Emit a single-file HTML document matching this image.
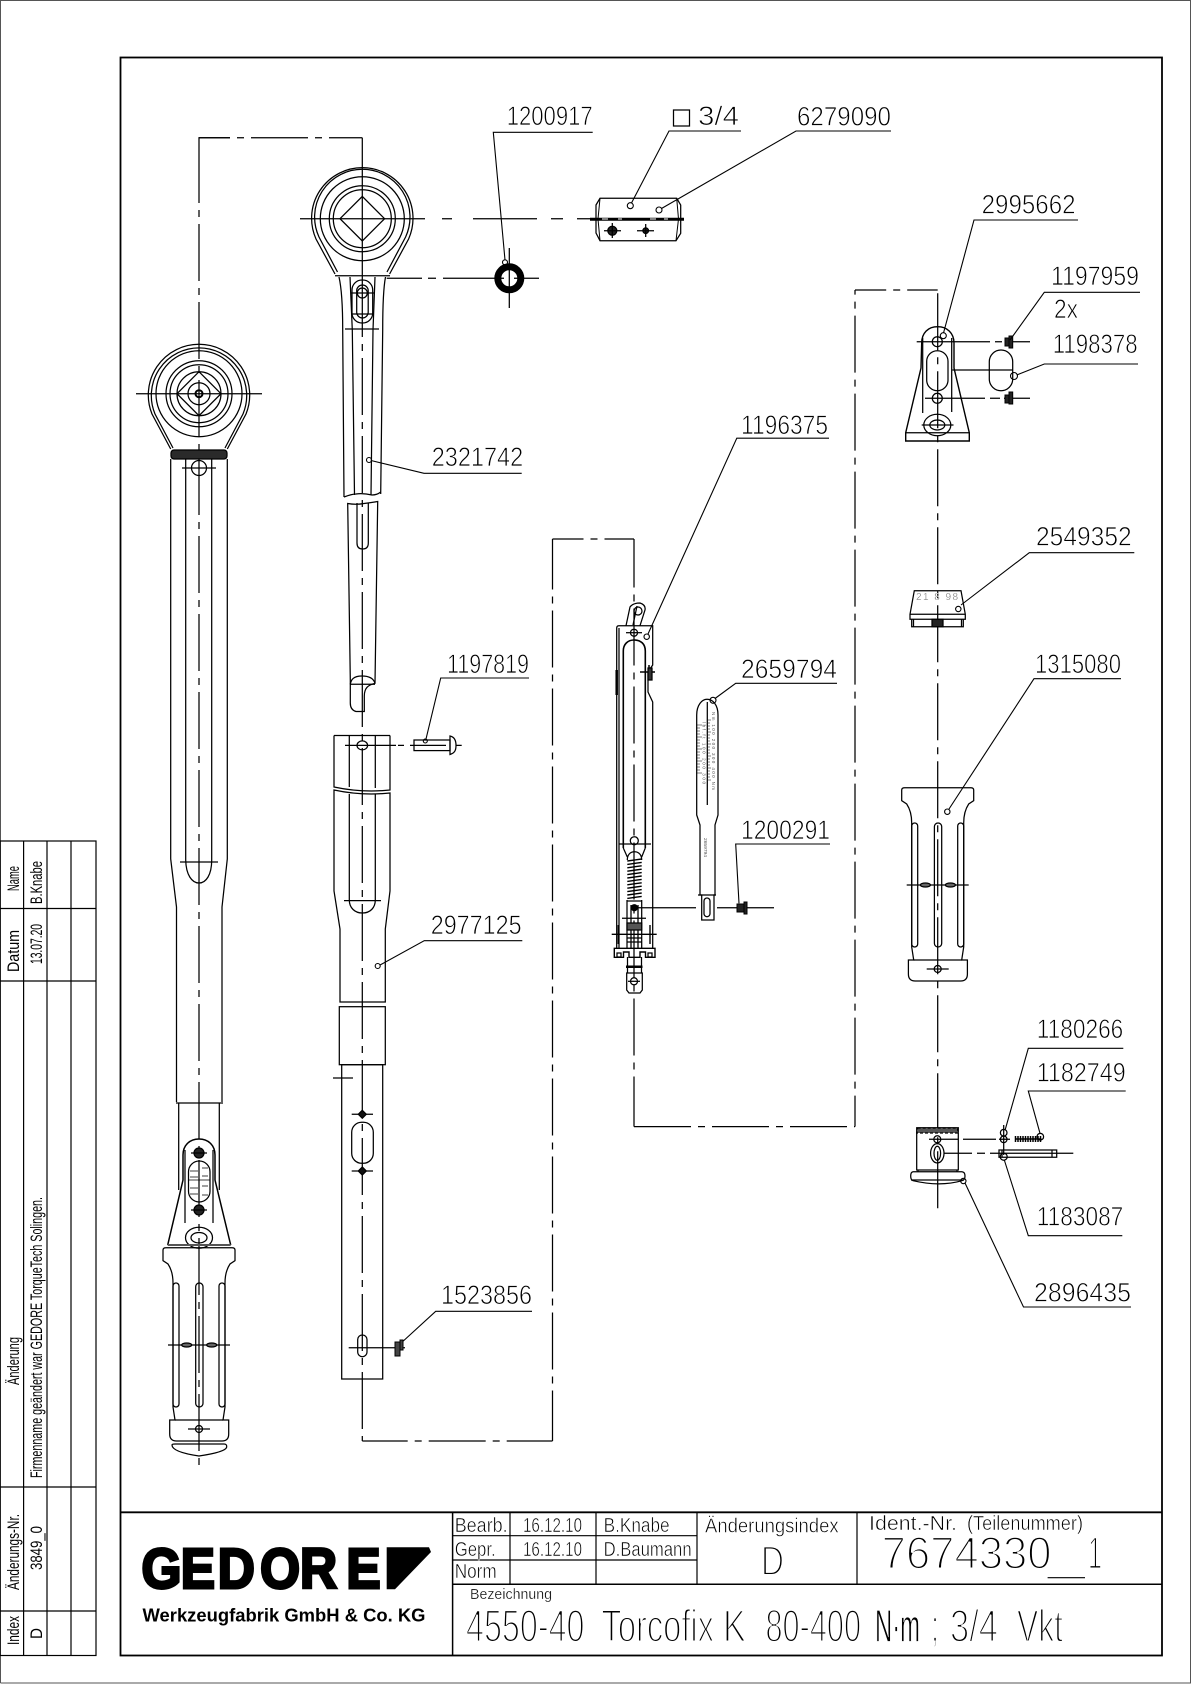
<!DOCTYPE html>
<html><head><meta charset="utf-8"><style>
html,body{margin:0;padding:0;background:#fff}
svg{display:block}
.l{fill:none;stroke:#000;stroke-width:1.25}
.d{stroke-dasharray:57 7 7 7}
.t{font-family:"Liberation Sans",sans-serif;font-size:27px;fill:#000;stroke:#fff;stroke-width:.75;}
.s{font-family:"Liberation Sans",sans-serif;font-size:20px;fill:#000;stroke:#fff;stroke-width:.55;}
.r{font-family:"Liberation Sans",sans-serif;font-size:17px;fill:#000;}
.b{font-family:"Liberation Sans",sans-serif;font-size:45px;fill:#000;stroke:#fff;stroke-width:2;}
</style></head><body>
<svg width="1191" height="1684" viewBox="0 0 1191 1684" xmlns="http://www.w3.org/2000/svg">
<rect width="1191" height="1684" fill="#fff"/>
<path d="M.5 1683V.5H1190.5V1683H.5" fill="none" stroke="#555" stroke-width="1"/>
<rect x="120.5" y="57.5" width="1041.5" height="1598" fill="none" stroke="#000" stroke-width="1.8"/>

<!-- left revision table -->
<g fill="none" stroke="#000" stroke-width="1.2">
<rect x="0" y="841" width="96" height="814.5"/>
<path d="M23.6 841V1655.5M47 841V1655.5M71 841V1655.5M0 908.5H96M0 981H96M0 1487H96M0 1611H96"/>
</g>
<text class="r" transform="translate(19,891) rotate(-90) scale(.55,1)">Name</text>
<text class="r" transform="translate(19,972) rotate(-90) scale(.84,1)">Datum</text>
<text class="r" transform="translate(19,1385) rotate(-90)" textLength="48" lengthAdjust="spacingAndGlyphs">Änderung</text>
<text class="r" transform="translate(19,1590) rotate(-90)" textLength="76" lengthAdjust="spacingAndGlyphs">Änderungs-Nr.</text>
<text class="r" transform="translate(19,1645) rotate(-90)" textLength="29" lengthAdjust="spacingAndGlyphs">Index</text>
<text class="r" transform="translate(42,904) rotate(-90)" textLength="43" lengthAdjust="spacingAndGlyphs">B.Knabe</text>
<text class="r" transform="translate(42,964) rotate(-90)" textLength="40" lengthAdjust="spacingAndGlyphs">13.07.20</text>
<text class="r" transform="translate(42,1478) rotate(-90)" textLength="281" lengthAdjust="spacingAndGlyphs">Firmenname geändert war GEDORE TorqueTech Solingen.</text>
<text class="r" transform="translate(42,1570) rotate(-90)" textLength="44" lengthAdjust="spacingAndGlyphs">3849_0</text>
<text class="r" transform="translate(42,1639) rotate(-90)" textLength="11" lengthAdjust="spacingAndGlyphs">D</text>

<!-- dash-dot assembly lines -->
<g class="l">
<path d="M199 146V137.7H230"/>
<line class="d" x1="199" y1="146" x2="199" y2="1469"/>
<line class="d" stroke-dashoffset="26" x1="199" y1="137.7" x2="362.3" y2="137.7"/>
<path d="M362.3 137.7V280"/>
<line class="d" x1="362.3" y1="280" x2="362.3" y2="1441"/>
<line class="d" stroke-dashoffset="11.6" x1="362.3" y1="1441" x2="552.5" y2="1441"/>
<line class="d" stroke-dashoffset="6.5" x1="552.5" y1="539" x2="552.5" y2="1441"/>
<line class="d" stroke-dashoffset="26" x1="552.5" y1="539" x2="634" y2="539"/>
<line class="d" stroke-dashoffset="8.5" x1="634" y1="539" x2="634" y2="1126.6"/>
<line class="d" x1="634" y1="1126.6" x2="855" y2="1126.6"/>
<line class="d" stroke-dashoffset="26" x1="855" y1="1126.6" x2="855" y2="290"/>
<line class="d" stroke-dashoffset="25.8" x1="855" y1="290" x2="937.7" y2="290"/>
<line class="d" stroke-dashoffset="74.8" x1="937.7" y1="290" x2="937.7" y2="1210"/>
<path d="M300 218.7H425M442 218.7H452M473 218.7H537M551 218.7H563M577 218.7H596"/>
<path d="M386.7 278.3H422M428 278.3H436M443 278.3H486"/>
<path d="M486 278.3H504M514 278.3H539M509.3 248V308"/>
</g>

<!-- tool 1 head -->
<g class="l">
<path d="M170.7 449L152 414A50.7 50.7 0 1 1 246 414L227.3 449"/>
<path d="M173 448L155 414A47.7 47.7 0 1 1 243 414L225 448"/>
<circle cx="199" cy="393.7" r="43"/><circle cx="199" cy="393.7" r="33"/><circle cx="199" cy="393.7" r="29"/><circle cx="199" cy="393.7" r="22"/>
<path d="M177 393.7L199 371.7L221 393.7L199 415.7Z"/>
<circle cx="199" cy="393.7" r="11"/><circle cx="199" cy="393.7" r="3.5" stroke-width="2"/>
<path d="M136 393.7H262"/>
<rect x="171" y="450" width="56" height="9" rx="3" fill="#2a2a2a"/>
<!-- shaft -->
<path d="M170.7 459V859L176.5 907V1102M227.3 459V859L222 907V1102M176 1103H223"/>
<path d="M185.7 459V860M211.7 459V860M185.7 860C186 875 192 883 199 883C206 883 211.7 875 211.7 860M180 862H218"/>
<circle cx="199" cy="468" r="7.5"/><path d="M182 468H216"/>
<path d="M178.7 1103V1190M219.3 1103V1190"/>
<path d="M167.7 1245L183 1180V1155C183 1145 190 1139 199 1139C208 1139 215 1145 215 1155V1180L230.7 1245" stroke-width="1.5"/>
<path d="M185 1150V1223M213 1150V1223"/>
<rect x="188.5" y="1161" width="21.5" height="41" rx="10.7"/>
<path d="M188.5 1180H210M190 1171h8M190 1177h8M190 1188h8M190 1194h8M202 1168h6M202 1176h6M202 1186h6M202 1195h6" stroke-width=".8"/>
<circle cx="199" cy="1153" r="5" fill="#222"/><circle cx="199" cy="1210" r="5" fill="#222"/>
<path d="M191 1153H207M191 1210H207"/>
<ellipse cx="199" cy="1237.7" rx="13.5" ry="10.5"/><ellipse cx="199" cy="1237.7" rx="8" ry="5.2"/>
<path d="M167.7 1245H230.7" stroke="#555" stroke-width="2"/>
</g>

<!-- handle -->
<g class="l" id="handle">
<path d="M166 1247.7H232Q235 1247.7 235 1250V1260.7L230 1264C226 1270 225 1276 225 1283V1407L223 1420H228.7V1434Q228.7 1441 222 1441H176.5Q169.7 1441 169.7 1434V1420H175L173 1407V1283C173 1276 172 1270 168 1264L163 1260.7V1250Q163 1247.7 166 1247.7Z"/>
<path d="M175 1420H223"/>
<rect x="173" y="1283" width="6" height="124" rx="3"/>
<rect x="195.7" y="1283" width="7.3" height="124" rx="3.6"/>
<rect x="219" y="1283" width="6" height="124" rx="3"/>
<path d="M168 1345H230"/>
<ellipse cx="186.7" cy="1345" rx="5" ry="2" fill="#666"/><ellipse cx="211.7" cy="1345" rx="5" ry="2" fill="#666"/>
<circle cx="199" cy="1429" r="3.5"/><path d="M188 1429H210"/>
</g>
<path class="l" d="M172 1445Q172 1444 175 1444H224Q227 1444 226.7 1447Q226 1452 199 1456Q172 1452 172 1445Z"/>
<use href="#handle" x="738.7" y="-460"/>

<!-- tool 2 head -->
<g class="l">
<path d="M335 274L316 239A50.7 50.7 0 1 1 408.6 239L389.6 274"/>
<path d="M337.5 272L319 237A47.7 47.7 0 1 1 405.6 237L387 272"/>
<path d="M335 275.7H390"/>
<circle cx="362.3" cy="218.7" r="42"/><circle cx="362.3" cy="218.7" r="33"/><circle cx="362.3" cy="218.7" r="29"/>
<path d="M340 218.7L362.3 196.4L384.6 218.7L362.3 241Z"/>
<path d="M339 277C342 290 342.7 310 342.7 330L344 497M385.5 277C383 290 382.7 310 382.7 330L380.7 494"/>
<path d="M344 497Q352 494 356 494Q363 493 372 495Q377 495 380.7 492"/>
<path d="M350 277L352.3 330L354.5 495M375 277L373 330L371 495"/>
<rect x="352" y="280" width="20.7" height="43" rx="10"/>
<rect x="356.7" y="285" width="11.5" height="33" rx="5.7"/>
<circle cx="362.3" cy="293" r="5"/>
<path d="M351 293H374M351 314H374"/>
<path d="M345 329H379"/>
<path d="M347.7 503.5Q356 505 364 503.5Q372 502.5 377.7 501.5L375 683.3C368 685 364.3 688 364.3 696V711.5H356Q350.3 710 350.3 703V680Z"/>
<path d="M350.3 684.3C351 680 353 676 362 676C371 676 374 680 375 683.3M350.3 684.3H375"/>
<path d="M357 503V543Q357 549 362.6 549Q368.3 549 368.3 543V503"/>

<!-- ring -->
<circle cx="509.3" cy="278.3" r="11.5" stroke-width="7"/>

<!-- nut -->
<path d="M596 205L600 198.3H676.7L680.7 205V233.3L676 240.7H600L596 233Z"/>
<path d="M590 219.2H684" stroke-width="3"/>
<path d="M602 219H608M618 219H622M650 219H656M664 219H668" stroke="#fff" stroke-width="1"/>
<path d="M600 198.3L598 219L600 240.7M676.7 198.3L678.5 219L676 240.7" stroke-width="1"/>
<circle cx="612.3" cy="230.7" r="4.5" fill="#222"/><circle cx="645.7" cy="230.7" r="2.8" fill="#222"/>
<path d="M604 230.7H621M612.3 223V238M637 230.7H654M645.7 224V237"/>

<!-- tube 2977125 -->
<path d="M334 735.5H390M334 735.5V787Q362 793 390 790V735.5" />
<path d="M334 790Q362 796 390 793V891L385.3 929V1002H340V929L334 891Z"/>
<path d="M349.3 736V787M375.3 736V788M349.3 794V900C349.3 908 355 913 362.3 913C370 913 375.3 908 375.3 900V794M344 900.6H381"/>
<ellipse cx="362.3" cy="745.4" rx="5.3" ry="4.5"/>
<path d="M345 745.4H396M398 745.4H404M410 745.4H414"/>
<rect x="414" y="740" width="36" height="10.6"/>
<path d="M414 745.4H446M450 736V754.5C455 753 456 750 456 745.4C456 741 455 737 450 736Z M456 745.4H461.7"/>
<rect x="339.3" y="1006.7" width="46" height="58"/>
<rect x="341.7" y="1064.7" width="41" height="314.3"/>
<path d="M333 1078H353"/>
<rect x="351.7" y="1122.3" width="21.6" height="41" rx="10"/>
<path d="M351.7 1114.3H373M351.7 1171H373"/>
<path d="M362.3 1110.3l4 4l-4 4l-4-4ZM362.3 1167l4 4l-4 4l-4-4Z" fill="#111"/>
<rect x="357.7" y="1335" width="9.3" height="21.7" rx="4.6"/>
<path d="M348.7 1347.7H405"/>
<path d="M395 1342H400V1356H395ZM400 1340H403V1350H400Z" fill="#444" stroke-width="1"/>

<!-- tool 3 -->
<path d="M616.7 948V628Q616.7 625.7 619 625.7H652.7V665L648 672V692L652.7 702V948"/>
<path d="M616.7 670V695" stroke-width="2.5"/>
<path d="M619 948V628"/>
<path d="M623.3 848V651C623.3 644 628 640 634 640C641 640 645.3 644 645.3 651V848" stroke-width="1.6"/>
<path d="M626 625.7L630 607Q633 603 640 603Q646 605 645 610L640 625.7M633 625L637 606"/>
<circle cx="638" cy="611" r="4"/>
<circle cx="634" cy="632.7" r="3.5"/><path d="M626 632.7H642"/>
<path d="M640 672H655M649 665V680" stroke-width="1.5"/>
<path d="M648 668H652V680H648Z" fill="#333"/>
<circle cx="634.3" cy="840.7" r="4"/><path d="M619 844H651"/>
<path d="M623.3 848L627.3 857M645.3 848L641.7 857"/>
<path d="M627.3 860C627.3 855 630 851.7 634.5 851.7C639 851.7 641.7 855 641.7 860"/>
<path d="M627.3 861l14.4-2M627.3 864.4l14.4-2M627.3 867.8l14.4-2M627.3 871.2l14.4-2M627.3 874.6l14.4-2M627.3 878l14.4-2M627.3 881.4l14.4-2M627.3 884.8l14.4-2M627.3 888.2l14.4-2M627.3 891.6l14.4-2M627.3 895l14.4-2M627.3 898.4l14.4-2" stroke-width="1.4"/>
<path d="M627.3 901H641.7"/>
<circle cx="634.3" cy="907.7" r="3" fill="#000"/>
<path d="M634 907.7H696M717 907.7H774"/>
<path d="M627 900V948M641.7 900V948M622 918.3H646"/>
<path d="M631 905V948M638 905V948" stroke-width="1.3"/>
<path d="M627 923H641.7V930H627Z" fill="#555"/>
<path d="M627 938H641.7M627 942H641.7"/>
<path d="M611.7 934.3H656.7M618.3 925V944M650 925V944" stroke-width="1.4"/>
<path d="M614.3 948.3H655V957.3H645.5V952H640V957.3H629V952H623.5V957.3H614.3Z" stroke-width="1.4"/>
<path d="M617 953h4v4h-4ZM648 953h4v4h-4Z"/>
<path d="M627.5 957V973M641.5 957V973"/>
<path d="M626 966.7H642.5" stroke-width="2.5"/>
<path d="M626.7 973H642.3V990L640 993H629L626.7 990Z"/>
<circle cx="634" cy="981.3" r="3.5"/><path d="M628 981.3H640"/>

<!-- scale strip -->
<path d="M696.7 715C696.7 705 702 699.3 707 699.3C713 699.3 718 705 718 715V815L715 825V895H714V920H701.7V895H700V825L696.7 815Z"/>
<rect x="704" y="898" width="6" height="18.7" rx="3"/>
<path d="M707.3 702V805M698 895H716"/>
<path d="M697 725h5M697 728h3M697 731h3M697 734h3M697 737h5M697 740h3M697 743h3M697 746h3M697 749h5M697 752h3M697 755h3M697 758h3M697 761h5M697 764h3M697 767h3M697 770h3M697 773h5M708 720h3M708 723h2M708 726h2M708 729h2M708 732h3M708 735h2M708 738h2M708 741h2M708 744h3M708 747h2M708 750h2M708 753h2M708 756h3M708 759h2M708 762h2M708 765h2M708 768h3M708 771h2M708 774h2M708 777h2M708 780h3" stroke-width=".6"/>

<!-- screw 1200291 -->
<path d="M737 904H744V912H737ZM744 902H747V914H744Z" fill="#222" stroke-width="1"/>

<!-- bracket -->
<path d="M921.7 343C921.7 333 928 326.7 937.7 326.7C947 326.7 954 333 954 343V368L969.3 432.7V441H905.7V432.7L921 368Z" stroke-width="1.4"/>
<path d="M905.7 432.7H969.3M922.7 338V413M951.7 338V412"/>
<circle cx="937.3" cy="341.7" r="5"/><circle cx="937.3" cy="398.3" r="5"/>
<rect x="926.7" y="350.7" width="21.3" height="40" rx="10.6"/>
<ellipse cx="937.3" cy="425" rx="13.5" ry="10.7"/><ellipse cx="937.3" cy="425" rx="7.5" ry="5"/>
<path d="M921.7 425H953.5"/>
<path d="M916.7 341.7H990M995 341.7H1002M1008 341.7H1030M925 398.3H985M990 398.3H1000M1004 398.3H1030"/>
<path d="M1005 338H1009V346H1005ZM1009 336H1012.7V348H1009ZM1005 395H1009V403H1005ZM1009 392H1012.7V404H1009Z" fill="#222" stroke-width="1"/>
<rect x="989.3" y="350" width="23.4" height="40.7" rx="11.7"/>
<path d="M952.3 370H1012.7"/>

<!-- 2549352 part -->
<path d="M914.3 590.7H961L965.3 614.3V619.3H910V614.3Z"/>
<path d="M910 614.3H965.3"/>
<path d="M911.7 619.3V626.7H963.3V619.3M913.5 619.3V626.7M961.5 619.3V626.7"/>
<rect x="932" y="619.3" width="11" height="7.4" fill="#222"/>

<!-- bottom part -->
<path d="M916.7 1127.7V1170H958.3V1127.7Z"/>
<path d="M917.7 1128H957.3L958.3 1133H916.7Z" fill="#555" stroke-dasharray="3 2"/>
<circle cx="937.3" cy="1139.3" r="3.5"/>
<path d="M929 1139.3H958M963 1139.3H996M999 1139.3H1010"/>
<ellipse cx="937.3" cy="1153.3" rx="6.7" ry="9.7"/><ellipse cx="937.3" cy="1153.3" rx="3.3" ry="7"/>
<path d="M944 1153.3H972M977 1153.3H985M990 1153.3H1073.3"/>
<path d="M918 1170V1172M957 1170V1172"/>
<path d="M913 1171.7H962Q965 1172 965 1176Q965 1180 962 1180.7Q940 1187 913 1180.7Q910.7 1180 910.7 1176Q910.7 1172 913 1171.7Z"/>
<path d="M911 1180H964"/>
<path d="M1003.7 1125V1155"/>
<circle cx="1003.7" cy="1132.7" r="3.3"/><circle cx="1003.7" cy="1139.3" r="3.3"/>
<circle cx="1040.3" cy="1136.7" r="3.3"/>
<path d="M1015.5 1136V1142M1018 1136V1142M1020.5 1136V1142M1023 1136V1142M1025.5 1136V1142M1028 1136V1142M1030.5 1136V1142M1033 1136V1142M1035.5 1136V1142M1038 1136V1142M1040.5 1136V1142M1015 1139H1041.5" stroke-width="1.5"/>
<path d="M999 1150H1056.7V1157.3H999Z"/>
<path d="M1052 1150V1157.3M1002 1150V1157.3"/>
<circle cx="1003.7" cy="1156.7" r="3.5"/>

<!-- leaders -->
<g stroke-width="1.1">
<path d="M505 260L493.3 132.3H592.7"/><circle cx="505" cy="262.3" r="2.5"/>
<path d="M631.5 203L669 131H741"/><circle cx="630.3" cy="205.7" r="3"/>
<path d="M661.5 208.5L796 131H891"/><circle cx="659" cy="210" r="3"/>
<path d="M943.5 333L974 220H1078"/><circle cx="943.3" cy="335.7" r="3"/>
<path d="M1010 340L1044.3 292.3H1140"/>
<path d="M1016.7 375L1044.3 364H1138"/><circle cx="1014" cy="376" r="3.5"/>
<path d="M961 605L1029.3 552.7H1134.3"/><circle cx="958.3" cy="609" r="2.7"/>
<path d="M949 809L1034 678.7H1121"/><circle cx="947.3" cy="811.7" r="2.7"/>
<path d="M1005.3 1129.3L1028.3 1048.3H1123.3"/>
<path d="M1040 1133.3L1028.3 1091H1125.7"/>
<path d="M1004.3 1160L1028.3 1235.7H1122.3"/>
<path d="M965 1183L1023.5 1307H1131"/><circle cx="963.3" cy="1181" r="2.7"/>
<path d="M648 634L736.8 438.2H829"/><circle cx="646.7" cy="636.7" r="2.7"/>
<path d="M715 698.5L735.7 683.3H837"/><circle cx="713" cy="700.3" r="3"/>
<path d="M739 903.3L735.7 844H830"/>
<path d="M371 460.5L424 473.3H521.7"/><circle cx="369" cy="460" r="2.5"/>
<path d="M380 965L424.3 940.7H522.3"/><circle cx="377.7" cy="966" r="2.5"/>
<path d="M403.3 1341L435.7 1311.3H532"/>
<path d="M426 739L440.7 678H529"/><circle cx="425.3" cy="741" r="2"/>
</g>
<rect x="673.5" y="110" width="16" height="16"/>
</g>

<!-- callout labels -->
<g>
<text class="t" x="506.7" y="125" textLength="86" lengthAdjust="spacingAndGlyphs">1200917</text>
<text class="t" x="698" y="125" textLength="41" lengthAdjust="spacingAndGlyphs">3/4</text>
<text class="t" x="797" y="125.5" textLength="94" lengthAdjust="spacingAndGlyphs">6279090</text>
<text class="t" x="981.6" y="213.7" textLength="94" lengthAdjust="spacingAndGlyphs">2995662</text>
<text class="t" x="1051" y="285" textLength="88" lengthAdjust="spacingAndGlyphs">1197959</text>
<text class="t" x="1054" y="318" textLength="24" lengthAdjust="spacingAndGlyphs">2x</text>
<text class="t" x="1052.7" y="353" textLength="85" lengthAdjust="spacingAndGlyphs">1198378</text>
<text class="t" x="741" y="434" textLength="87" lengthAdjust="spacingAndGlyphs">1196375</text>
<text class="t" x="431.7" y="466" textLength="91.5" lengthAdjust="spacingAndGlyphs">2321742</text>
<text class="t" x="1036" y="545.7" textLength="95.7" lengthAdjust="spacingAndGlyphs">2549352</text>
<text class="t" x="447" y="673" textLength="82" lengthAdjust="spacingAndGlyphs">1197819</text>
<text class="t" x="1035" y="673" textLength="86" lengthAdjust="spacingAndGlyphs">1315080</text>
<text class="t" x="741" y="678" textLength="96" lengthAdjust="spacingAndGlyphs">2659794</text>
<text class="t" x="741" y="839" textLength="89" lengthAdjust="spacingAndGlyphs">1200291</text>
<text class="t" x="430.7" y="934" textLength="91" lengthAdjust="spacingAndGlyphs">2977125</text>
<text class="t" x="1036.7" y="1038" textLength="86.6" lengthAdjust="spacingAndGlyphs">1180266</text>
<text class="t" x="1036.7" y="1081.7" textLength="89" lengthAdjust="spacingAndGlyphs">1182749</text>
<text class="t" x="1036.7" y="1225.7" textLength="86.6" lengthAdjust="spacingAndGlyphs">1183087</text>
<text class="t" x="1034" y="1301.7" textLength="97" lengthAdjust="spacingAndGlyphs">2896435</text>
<text class="t" x="441" y="1304" textLength="91" lengthAdjust="spacingAndGlyphs">1523856</text>
</g>
<g font-family="'Liberation Sans',sans-serif" fill="#555">
<text transform="translate(702.5,722) rotate(90)" textLength="62" lengthAdjust="spacing" font-size="4.5">lbf.ft 100 200 300</text>
<text transform="translate(712,712) rotate(90)" textLength="78" lengthAdjust="spacing" font-size="4.5">Nm 100 200 300 400 Nm</text>
<text transform="translate(704,838) rotate(90)" textLength="19" lengthAdjust="spacingAndGlyphs" font-size="4.5">2659794</text>
<text x="916" y="600" font-size="10" fill="#555" stroke="#fff" stroke-width=".3" textLength="42" lengthAdjust="spacing">21 8 98</text>
</g>

<!-- title block -->
<g fill="none" stroke="#000" stroke-width="1.2">
<path d="M120.5 1512.3H1162" stroke-width="1.8"/>
<path d="M452.6 1512V1655.5" stroke-width="1.5"/>
<path d="M452.6 1584.3H1162" stroke-width="1.5"/>
<path d="M510 1512V1584M596 1512V1584M697 1512V1584M857 1512V1584"/>
<path d="M452.6 1535.7H697M452.6 1560H697"/>
</g>
<path d="M386.7 1547.3H429L431 1552L395 1589.3H386.7Z" fill="#000"/>
<text transform="scale(.9,1)" x="157.2 200.8 241.9 289.1 333.3 384.8" y="1587.8" font-family="'Liberation Sans',sans-serif" font-weight="bold" font-size="57" fill="#000" stroke="#000" stroke-width="3" stroke-linejoin="miter">GEDORE</text>
<text x="142.5" y="1621.7" font-family="'Liberation Sans',sans-serif" font-weight="bold" font-size="18" fill="#000" textLength="283" lengthAdjust="spacingAndGlyphs">Werkzeugfabrik GmbH &amp; Co. KG</text>
<g>
<text class="s" x="454.7" y="1532" textLength="53" lengthAdjust="spacingAndGlyphs">Bearb.</text>
<text class="s" x="454.7" y="1556" textLength="41" lengthAdjust="spacingAndGlyphs">Gepr.</text>
<text class="s" x="454.7" y="1578" textLength="42" lengthAdjust="spacingAndGlyphs">Norm</text>
<text class="s" x="523" y="1532" textLength="59" lengthAdjust="spacingAndGlyphs">16.12.10</text>
<text class="s" x="523" y="1556" textLength="59" lengthAdjust="spacingAndGlyphs">16.12.10</text>
<text class="s" x="603.6" y="1532" textLength="66" lengthAdjust="spacingAndGlyphs">B.Knabe</text>
<text class="s" x="603.6" y="1556" textLength="88" lengthAdjust="spacingAndGlyphs">D.Baumann</text>
<text class="s" x="705" y="1532.7" textLength="133.6" lengthAdjust="spacingAndGlyphs">Änderungsindex</text>
<text class="s" x="869" y="1530" textLength="88" lengthAdjust="spacingAndGlyphs">Ident.-Nr.</text>
<text class="s" x="967" y="1530" textLength="116" lengthAdjust="spacingAndGlyphs">(Teilenummer)</text>
<text class="s" style="font-size:14.5px;stroke-width:.3" x="470" y="1599" textLength="82" lengthAdjust="spacingAndGlyphs">Bezeichnung</text>
<text class="b" style="font-size:42px" x="761" y="1575" textLength="23" lengthAdjust="spacingAndGlyphs">D</text>
<text class="b" x="881.6" y="1568.5" textLength="170" lengthAdjust="spacingAndGlyphs">7674330</text>
<text class="b" x="1088" y="1568.5" textLength="14" lengthAdjust="spacingAndGlyphs">1</text>
<path d="M1047.6 1577.7H1085" stroke="#000" stroke-width="1.2"/>
<text class="b" x="466" y="1641.7" textLength="118.5" lengthAdjust="spacingAndGlyphs">4550-40</text>
<text class="b" x="601.5" y="1641.7" textLength="112.5" lengthAdjust="spacingAndGlyphs">Torcofix</text>
<text class="b" x="723" y="1641.7" textLength="23" lengthAdjust="spacingAndGlyphs">K</text>
<text class="b" x="765.5" y="1641.7" textLength="95.5" lengthAdjust="spacingAndGlyphs">80-400</text>
<text class="b" style="stroke-width:.8" x="875" y="1641.7" textLength="45" lengthAdjust="spacingAndGlyphs">N·m</text>
<text class="b" x="931" y="1641.7" textLength="8" lengthAdjust="spacingAndGlyphs">;</text>
<text class="b" x="950" y="1641.7" textLength="48" lengthAdjust="spacingAndGlyphs">3/4</text>
<text class="b" x="1017" y="1641.7" textLength="46" lengthAdjust="spacingAndGlyphs">Vkt</text>
</g>
</svg>
</body></html>
